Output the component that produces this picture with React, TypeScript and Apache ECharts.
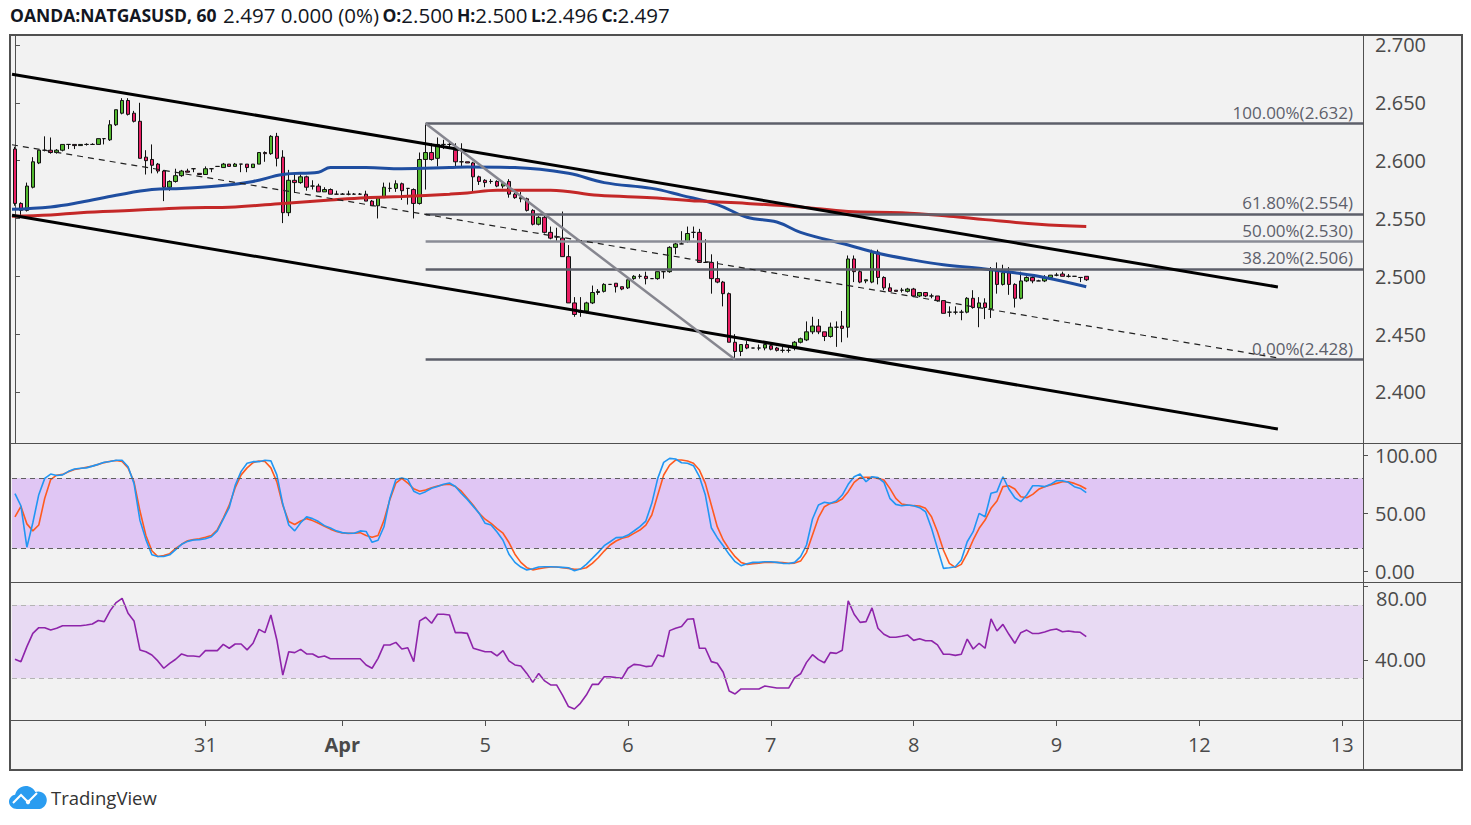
import React, { useEffect, useRef } from "react";
import * as echarts from "echarts";

// hourly candles, one per slot; slots after the last candle stay empty (future space)
const slotCount = 227;

const opens = [
  2.610, 2.563, 2.557, 2.577, 2.598, 2.609, 2.609, 2.607, 2.609, 2.614,
  2.614, 2.613, 2.614, 2.614, 2.614, 2.619, 2.618, 2.631, 2.641, 2.652,
  2.641, 2.634, 2.603, 2.601, 2.597, 2.591, 2.577, 2.582, 2.587, 2.591,
  2.593, 2.589, 2.588, 2.593, 2.595, 2.594, 2.597, 2.595, 2.597, 2.597,
  2.594, 2.597, 2.607, 2.606, 2.621, 2.603, 2.555, 2.583, 2.581, 2.586,
  2.578, 2.578, 2.573, 2.575, 2.571, 2.571, 2.571, 2.571, 2.571, 2.571,
  2.565, 2.561, 2.568, 2.576, 2.576, 2.580, 2.576, 2.575, 2.563, 2.601,
  2.607, 2.602, 2.614, 2.614, 2.609, 2.599, 2.599, 2.598, 2.586, 2.583,
  2.582, 2.582, 2.578, 2.582, 2.571, 2.567, 2.567, 2.557, 2.545, 2.551,
  2.538, 2.534, 2.533, 2.517, 2.477, 2.469, 2.470, 2.477, 2.486, 2.487,
  2.493, 2.494, 2.491, 2.490, 2.498, 2.500, 2.500, 2.498, 2.498, 2.504,
  2.504, 2.525, 2.528, 2.530, 2.538, 2.538, 2.512, 2.512, 2.498, 2.495,
  2.485, 2.443, 2.435, 2.441, 2.438, 2.438, 2.438, 2.440, 2.438, 2.436,
  2.436, 2.438, 2.443, 2.445, 2.452, 2.457, 2.452, 2.448, 2.456, 2.457,
  2.456, 2.515, 2.504, 2.496, 2.495, 2.521, 2.499, 2.490, 2.488, 2.488,
  2.487, 2.489, 2.483, 2.486, 2.483, 2.483, 2.479, 2.469, 2.469, 2.469,
  2.469, 2.481, 2.473, 2.477, 2.472, 2.506, 2.493, 2.503, 2.493, 2.481,
  2.496, 2.499, 2.496, 2.496, 2.499, 2.501, 2.502, 2.500, 2.500, 2.499,
  2.500,
];
const highs = [
  2.612, 2.564, 2.581, 2.603, 2.609, 2.621, 2.620, 2.610, 2.614, 2.614,
  2.614, 2.614, 2.615, 2.615, 2.619, 2.619, 2.635, 2.644, 2.654, 2.654,
  2.643, 2.650, 2.609, 2.614, 2.598, 2.592, 2.583, 2.593, 2.592, 2.593,
  2.593, 2.589, 2.595, 2.593, 2.595, 2.598, 2.597, 2.598, 2.597, 2.597,
  2.597, 2.607, 2.608, 2.622, 2.624, 2.609, 2.592, 2.589, 2.588, 2.587,
  2.583, 2.580, 2.577, 2.576, 2.574, 2.572, 2.574, 2.572, 2.572, 2.574,
  2.566, 2.568, 2.581, 2.581, 2.583, 2.581, 2.576, 2.576, 2.607, 2.632,
  2.615, 2.620, 2.618, 2.617, 2.615, 2.615, 2.599, 2.599, 2.587, 2.584,
  2.584, 2.583, 2.580, 2.584, 2.572, 2.573, 2.568, 2.558, 2.552, 2.552,
  2.543, 2.542, 2.556, 2.527, 2.482, 2.482, 2.478, 2.492, 2.489, 2.494,
  2.493, 2.494, 2.491, 2.497, 2.501, 2.502, 2.504, 2.498, 2.504, 2.504,
  2.526, 2.529, 2.539, 2.543, 2.543, 2.541, 2.532, 2.519, 2.513, 2.496,
  2.486, 2.450, 2.441, 2.444, 2.438, 2.441, 2.441, 2.441, 2.439, 2.439,
  2.439, 2.444, 2.447, 2.461, 2.465, 2.463, 2.452, 2.460, 2.461, 2.470,
  2.518, 2.518, 2.506, 2.497, 2.523, 2.523, 2.500, 2.494, 2.488, 2.490,
  2.490, 2.490, 2.486, 2.486, 2.485, 2.483, 2.479, 2.474, 2.474, 2.471,
  2.482, 2.488, 2.482, 2.481, 2.508, 2.512, 2.510, 2.508, 2.494, 2.504,
  2.500, 2.500, 2.497, 2.501, 2.501, 2.503, 2.504, 2.502, 2.500, 2.499,
  2.500,
];
const lows = [
  2.561, 2.551, 2.556, 2.576, 2.597, 2.608, 2.606, 2.606, 2.608, 2.610,
  2.610, 2.613, 2.613, 2.614, 2.614, 2.614, 2.617, 2.630, 2.640, 2.639,
  2.633, 2.602, 2.588, 2.589, 2.589, 2.565, 2.574, 2.581, 2.586, 2.590,
  2.590, 2.588, 2.588, 2.590, 2.595, 2.594, 2.595, 2.595, 2.590, 2.590,
  2.594, 2.597, 2.599, 2.605, 2.595, 2.546, 2.552, 2.572, 2.580, 2.574,
  2.575, 2.573, 2.573, 2.571, 2.571, 2.571, 2.570, 2.571, 2.571, 2.565,
  2.561, 2.550, 2.568, 2.573, 2.573, 2.566, 2.562, 2.550, 2.562, 2.575,
  2.600, 2.595, 2.610, 2.610, 2.594, 2.594, 2.598, 2.572, 2.579, 2.577,
  2.580, 2.577, 2.576, 2.568, 2.567, 2.564, 2.556, 2.544, 2.544, 2.537,
  2.532, 2.530, 2.517, 2.477, 2.465, 2.465, 2.468, 2.476, 2.484, 2.486,
  2.493, 2.486, 2.488, 2.489, 2.497, 2.498, 2.493, 2.498, 2.497, 2.498,
  2.503, 2.519, 2.528, 2.529, 2.533, 2.512, 2.512, 2.485, 2.494, 2.474,
  2.443, 2.428, 2.431, 2.437, 2.438, 2.436, 2.436, 2.436, 2.435, 2.434,
  2.434, 2.436, 2.442, 2.444, 2.450, 2.450, 2.444, 2.447, 2.439, 2.443,
  2.447, 2.495, 2.494, 2.494, 2.494, 2.493, 2.488, 2.487, 2.487, 2.486,
  2.486, 2.482, 2.482, 2.482, 2.481, 2.478, 2.468, 2.465, 2.467, 2.462,
  2.468, 2.472, 2.456, 2.463, 2.464, 2.485, 2.492, 2.484, 2.473, 2.480,
  2.495, 2.494, 2.496, 2.495, 2.499, 2.500, 2.500, 2.499, 2.500, 2.495,
  2.496,
];
const closes = [
  2.563, 2.557, 2.578, 2.599, 2.609, 2.609, 2.607, 2.609, 2.614, 2.614,
  2.613, 2.614, 2.614, 2.614, 2.619, 2.619, 2.631, 2.644, 2.652, 2.640,
  2.634, 2.602, 2.600, 2.596, 2.591, 2.577, 2.582, 2.587, 2.591, 2.590,
  2.593, 2.588, 2.593, 2.593, 2.595, 2.597, 2.595, 2.597, 2.597, 2.594,
  2.597, 2.607, 2.606, 2.621, 2.602, 2.555, 2.583, 2.581, 2.586, 2.577,
  2.578, 2.573, 2.575, 2.571, 2.571, 2.571, 2.571, 2.571, 2.571, 2.565,
  2.561, 2.568, 2.577, 2.576, 2.580, 2.574, 2.576, 2.563, 2.601, 2.607,
  2.601, 2.614, 2.614, 2.614, 2.599, 2.599, 2.598, 2.586, 2.582, 2.581,
  2.582, 2.578, 2.580, 2.571, 2.568, 2.568, 2.557, 2.545, 2.551, 2.538,
  2.533, 2.534, 2.517, 2.477, 2.467, 2.469, 2.477, 2.486, 2.487, 2.493,
  2.493, 2.491, 2.489, 2.497, 2.500, 2.500, 2.498, 2.498, 2.504, 2.504,
  2.525, 2.528, 2.528, 2.537, 2.538, 2.512, 2.512, 2.498, 2.495, 2.485,
  2.443, 2.435, 2.441, 2.438, 2.438, 2.438, 2.441, 2.437, 2.436, 2.436,
  2.436, 2.443, 2.446, 2.452, 2.457, 2.452, 2.448, 2.456, 2.456, 2.455,
  2.515, 2.504, 2.495, 2.497, 2.521, 2.499, 2.490, 2.487, 2.487, 2.488,
  2.489, 2.483, 2.486, 2.483, 2.483, 2.479, 2.468, 2.469, 2.469, 2.469,
  2.481, 2.473, 2.477, 2.473, 2.506, 2.493, 2.503, 2.493, 2.481, 2.496,
  2.499, 2.496, 2.496, 2.499, 2.501, 2.501, 2.500, 2.500, 2.500, 2.499,
  2.497,
];

// moving averages read at anchor candles: [candle index, price]
const maBlue = [
  [-0.5, 2.558], [6, 2.560], [11, 2.564], [17, 2.570], [23, 2.575], [28, 2.576],
  [34, 2.578], [40, 2.582], [45, 2.588], [51, 2.590], [53, 2.594], [59, 2.594],
  [65, 2.593], [73, 2.594], [76, 2.5945], [84, 2.594], [93, 2.589], [99, 2.581],
  [107, 2.576], [112, 2.570], [118, 2.562], [123, 2.551], [128, 2.547], [132, 2.538],
  [140, 2.527], [145, 2.520], [151, 2.514], [156, 2.510], [162, 2.507], [168, 2.503],
  [173, 2.499], [180, 2.491],
];
const maRed = [
  [-0.5, 2.552], [6, 2.553], [11, 2.555], [20, 2.557], [28, 2.559], [37, 2.560],
  [45, 2.563], [53, 2.566], [59, 2.568], [65, 2.569], [73, 2.571], [76, 2.572],
  [81, 2.5745], [90, 2.5745], [98, 2.570], [107, 2.568], [115, 2.565], [123, 2.563],
  [132, 2.560], [140, 2.556], [149, 2.555], [157, 2.552], [163, 2.549], [172, 2.545],
  [180, 2.543],
];

// slow stochastic %K / %D
const stochK = [
  67, 56.5, 21, 42, 66, 80, 83.7, 82.5, 83, 86,
  88, 88.6, 89, 90.5, 92, 93.8, 94.5, 95.5, 95.5, 90,
  75.7, 44, 27.5, 14.5, 13, 13, 14.5, 19, 23.5, 26,
  27.2, 27.5, 28.3, 30, 35, 45, 55, 74, 86, 93,
  94.3, 94.3, 95.5, 95, 83, 58, 40, 35, 42, 47,
  45.5, 43, 39.5, 37.5, 35, 33.5, 33, 33, 35, 34.5,
  25.2, 27, 38.5, 63, 79, 80.3, 79, 69, 66.5, 68.6,
  71.5, 73, 75, 76, 73, 67, 62, 56, 50, 41.5,
  40, 34, 27, 15, 8, 4, 1.5, 2.5, 4, 4.3,
  4.3, 4, 3.7, 3.4, 0.9, 2.3, 6.3, 11.4, 16.6, 22.3,
  25.7, 29.2, 29.4, 31.4, 34.9, 38.6, 43.4, 58.6, 80, 93.7,
  97.1, 96.6, 93.4, 92.9, 90.9, 81.4, 65.7, 37.7, 29.2, 22.3,
  14.9, 8.6, 5.2, 6.9, 8, 8, 8.6, 8.6, 8, 7.2,
  7, 8, 12.9, 22.9, 45.2, 57.2, 59.5, 58.6, 60.6, 65.7,
  74.9, 81.4, 83.7, 77.1, 81.4, 80.6, 76.6, 62.9, 57.7, 56.6,
  57.2, 56.6, 54.9, 51.4, 37.2, 20, 2.9, 3.4, 4.3, 10,
  25.7, 34.3, 50, 47.1, 67.2, 68.6, 81.4, 70.9, 63.4, 60,
  65.7, 73.7, 73.7, 72.9, 74.9, 78, 78, 76.6, 72.9, 71.4,
  67.7,
];
const stochD = [
  47, 56, 41, 35, 40, 63, 79, 82.7, 83.4, 85.6,
  87.6, 88.5, 89.5, 90.5, 92, 93.5, 94.7, 95.3, 94.5, 89,
  77, 52, 31, 18, 13, 13.8, 15.5, 20, 23.5, 26.5,
  27.5, 28.2, 29.5, 31, 36, 46, 57, 72, 83, 89,
  93.5, 94.9, 94.5, 89, 77, 57, 43, 40.5, 43.5, 45.5,
  43.8, 41.5, 39, 36.5, 34.5, 33.2, 32.9, 33, 33.5, 31,
  29.5, 31, 44, 62, 76, 80, 76, 71, 69, 70,
  72, 73.5, 74.5, 74.9, 73, 69, 63, 57, 50, 45,
  41.5, 37, 33, 25, 15, 8, 3.5, 1.6, 2.5, 3.4,
  4, 4, 3.4, 2.9, 2, 2.3, 3.4, 7.2, 12, 17.7,
  22.9, 26.3, 28.6, 30, 32.9, 35.7, 40, 48.6, 65.7, 82.9,
  91.4, 95.7, 95.7, 94.9, 92.9, 87.1, 75.7, 57.2, 38.6, 27.2,
  19.4, 12.9, 8, 6.3, 6.9, 7.4, 8, 8, 8, 7.8,
  7.2, 7.4, 9.1, 16.6, 31.4, 46.3, 55.7, 58.6, 59.5, 62.3,
  68.6, 76.6, 80.6, 80.9, 80.9, 80, 78.6, 71.4, 62.9, 58,
  57.2, 56.6, 56.3, 54.3, 47.1, 34.3, 18.6, 7.2, 3.7, 6.3,
  15.7, 27.2, 37.2, 44.3, 54.3, 60.6, 72.9, 73.7, 70.9, 64.3,
  63.4, 66.3, 70.6, 72.9, 74.3, 75.7, 77.1, 77.1, 75.7, 73.7,
  70.9,
];

const rsi = [
  40.4, 39.1, 47.3, 54.5, 57.6, 57.6, 56.4, 57.3, 58.7, 58.7,
  58.7, 58.7, 59.1, 59.6, 61.5, 60.9, 66.9, 71.3, 73.6, 65.5,
  61.3, 45.5, 44.5, 42.7, 39.5, 35.5, 38.2, 40.4, 43.3, 42.2,
  42.2, 41.8, 45.1, 45.1, 45.1, 48.5, 46.4, 48.7, 48.7, 45.5,
  49.1, 56.7, 54.9, 64.5, 50.9, 31.8, 44.5, 44, 45.8, 43.3,
  43.3, 41.5, 42.2, 40.7, 40.7, 40.7, 40.7, 40.7, 40.7, 37.3,
  35.5, 40.9, 48.2, 48.2, 49.6, 46, 46.7, 39.1, 61.3, 63.3,
  60, 64.9, 64.9, 64.5, 54.9, 54.9, 54.5, 46.4, 45.5, 44.5,
  44.5, 42.2, 45.1, 39.5, 37.3, 36.7, 32.7, 27.8, 32.7, 28.6,
  26.4, 26.4, 20.9, 14.6, 13.3, 16.4, 20.9, 26.7, 26.7, 30.9,
  30.9, 30.4, 30, 35.5, 37.6, 37.3, 36.4, 36.7, 42.7, 41.8,
  56, 57.3, 58.2, 62.2, 62.5, 46.4, 46.4, 39.1, 38.2, 33.3,
  23.1, 21.5, 24.2, 24.2, 24.2, 24.2, 25.8, 25.3, 24.7, 24.7,
  24.7, 30.4, 32.5, 38.7, 42.9, 40.2, 38.5, 44, 43.6, 45.3,
  72.2, 64.9, 60.5, 60.9, 68.4, 57.3, 54, 52.4, 52.4, 52.9,
  53.6, 50.7, 51.6, 50.5, 50.5, 48.2, 43.1, 43.1, 42.5, 43.1,
  51.4, 46, 49.1, 46.4, 62.4, 55.8, 59.4, 54, 49.1, 54.9,
  56.3, 54.4, 54.4, 55.3, 56.3, 56.9, 55.4, 55.8, 55.3, 55.1,
  52.7,
];

// drawings: [candle index, price]
const channelTop = [[-0.5, 2.6747], [212.2, 2.4908]];
const channelBottom = [[-0.5, 2.5528], [212.2, 2.368]];
const channelMid = [[-0.5, 2.6137], [212.2, 2.4294]];
const fibTrend = [[69, 2.632], [121, 2.428]];
const fibRatios = [1, 0.618, 0.5, 0.382, 0];
const fibPrices = [2.632, 2.554, 2.53, 2.506, 2.428];
const fibColors = ["#5d5f6a", "#5d5f6a", "#8a8c96", "#5d5f6a", "#5d5f6a"];

const dayTickIndex = [32, 55, 79, 103, 127, 151, 175, 199, 223];
const dayTickLabels = ["31", "Apr", "5", "6", "7", "8", "9", "12", "13"];
const priceTicks = [2.4, 2.45, 2.5, 2.55, 2.6, 2.65, 2.7];
const stochTicks = [0, 50, 100];
const rsiTicks = [40, 80];
const rsiTopLabel = 80; // sits on the pane border, drawn apart so it clears "0.00"

const FONT = "'Open Sans', 'DejaVu Sans', sans-serif";
const NARROW = "'Liberation Sans Narrow', 'Open Sans', sans-serif";
const AXIS_COLOR = "#505050";
const TEXT_COLOR = "#4a4a4a";

const cloudPath =
  "M8 23 C3.5 23 0 19.8 0 15.8 C0 12.2 2.6 9.2 6.1 8.7 C7.3 3.7 11.6 0 16.8 0 C21 0 24.6 2.4 26.4 5.9 C27.3 5.6 28.3 5.4 29.3 5.4 C34 5.4 37.8 9.2 37.8 13.9 C37.8 18.9 34 23 29.3 23 Z";
echarts.graphic.registerShape("tvCloud", echarts.graphic.extendPath(cloudPath, {}));

const GRID_LEFT = 12;
const GRID_RIGHT = 108;

const App: React.FC = () => {
  const chartRef = useRef<HTMLDivElement>(null);

  useEffect(() => {
    if (!chartRef.current) return;
    const chart = echarts.init(chartRef.current, undefined, { renderer: "svg" });

    const categories = Array.from({ length: slotCount }, (_, i) => String(i));
    const candles = opens.map((o, i) => [o, closes[i], lows[i], highs[i]]);
    const isDay = (idx: number) => dayTickIndex.indexOf(idx) >= 0;

    const hiddenCat = (gridIndex: number) => ({
      type: "category" as const,
      gridIndex,
      data: categories,
      boundaryGap: true,
      show: false,
    });

    const rightAxis = (gridIndex: number, min: number, max: number, ticks: number[], labels: number[], digits: number) => ({
      type: "value" as const,
      gridIndex,
      min,
      max,
      position: "right" as const,
      splitLine: { show: false },
      axisLine: { show: true, lineStyle: { color: AXIS_COLOR, width: 1 } },
      axisTick: { show: true, length: 5, customValues: ticks, lineStyle: { color: AXIS_COLOR } },
      axisLabel: {
        customValues: labels,
        formatter: (v: number) => v.toFixed(digits),
        fontSize: 20,
        lineHeight: 20,
        color: TEXT_COLOR,
        fontFamily: FONT,
        margin: 12,
      },
    });

    const drawing = (data: number[][], color: string, width: number, type: any = "solid") => ({
      type: "line" as const,
      xAxisIndex: 3,
      yAxisIndex: 0,
      data,
      symbol: "none",
      silent: true,
      lineStyle: { color, width, type },
      z: 5,
    });

    const options: any = {
      animation: false,
      backgroundColor: "#ffffff",
      grid: [
        { left: GRID_LEFT, right: GRID_RIGHT, top: 35, height: 408 },
        { left: GRID_LEFT, right: GRID_RIGHT, top: 443, height: 139 },
        { left: GRID_LEFT, right: GRID_RIGHT, top: 582, height: 138 },
      ],
      xAxis: [
        hiddenCat(0),
        hiddenCat(1),
        {
          type: "category",
          gridIndex: 2,
          data: categories,
          boundaryGap: true,
          axisLine: { show: false },
          axisTick: {
            show: true,
            alignWithLabel: true,
            interval: (idx: number) => isDay(idx),
            length: 6,
            lineStyle: { color: AXIS_COLOR },
          },
          axisLabel: {
            interval: (idx: number) => isDay(idx),
            formatter: (_v: string, idx: number) => {
              const k = dayTickIndex.indexOf(idx);
              if (k < 0) return "";
              const t = dayTickLabels[k];
              return t === "Apr" ? "{m|Apr}" : t;
            },
            fontSize: 20,
            color: TEXT_COLOR,
            fontFamily: FONT,
            margin: 14,
            rich: {
              m: { fontSize: 20, fontWeight: "bold", color: TEXT_COLOR, fontFamily: FONT },
            },
          },
        },
        { type: "value", gridIndex: 0, min: -0.5, max: slotCount - 0.5, show: false },
      ],
      yAxis: [
        rightAxis(0, 2.3559, 2.7086, priceTicks, priceTicks, 3),
        rightAxis(1, -8.8, 110.3, stochTicks, stochTicks, 2),
        rightAxis(2, 7.3, 82.5, rsiTicks, rsiTicks.filter((v) => v !== rsiTopLabel), 2),
      ],
      series: [
        {
          name: "NATGASUSD",
          type: "candlestick",
          xAxisIndex: 0,
          yAxisIndex: 0,
          data: candles,
          barWidth: 4,
          itemStyle: {
            color: "#52b82e",
            color0: "#e91e63",
            borderColor: "#111111",
            borderColor0: "#111111",
            borderWidth: 1,
          },
          z: 3,
        },
        {
          name: "MA fast",
          type: "line",
          xAxisIndex: 3,
          yAxisIndex: 0,
          data: maBlue,
          smooth: 0.4,
          symbol: "none",
          lineStyle: { color: "#1f4ea0", width: 3 },
          z: 4,
        },
        {
          name: "MA slow",
          type: "line",
          xAxisIndex: 3,
          yAxisIndex: 0,
          data: maRed,
          smooth: 0.4,
          symbol: "none",
          lineStyle: { color: "#c42828", width: 3 },
          z: 4,
        },
        drawing(channelTop, "#000000", 3),
        drawing(channelBottom, "#000000", 3),
        drawing(channelMid, "#222222", 1.2, [6, 5]),
        {
          ...drawing(fibTrend, "#86868f", 2.5),
          markLine: {
            silent: true,
            symbol: ["none", "none"],
            data: fibRatios.map((r, k) => [
              {
                coord: [69, fibPrices[k]],
                lineStyle: { color: fibColors[k], width: 2.5, type: "solid" },
                label: {
                  show: true,
                  position: "insideEndTop",
                  distance: [10, 3],
                  formatter: `${(r * 100).toFixed(2)}%(${fibPrices[k].toFixed(3)})`,
                  color: "#5d606b",
                  fontSize: 17,
                  fontFamily: FONT,
                },
              },
              { coord: [slotCount - 0.5, fibPrices[k]] },
            ]),
          },
        },
        {
          name: "%D",
          type: "line",
          xAxisIndex: 1,
          yAxisIndex: 1,
          data: stochD,
          symbol: "none",
          lineStyle: { color: "#ff5a1f", width: 1.6 },
          z: 3,
        },
        {
          name: "%K",
          type: "line",
          xAxisIndex: 1,
          yAxisIndex: 1,
          data: stochK,
          symbol: "none",
          lineStyle: { color: "#2196f3", width: 1.6 },
          z: 4,
          markArea: {
            silent: true,
            itemStyle: { color: "#e0c6f4" },
            data: [[{ yAxis: 20 }, { yAxis: 80 }]],
          },
          markLine: {
            silent: true,
            symbol: ["none", "none"],
            label: { show: false },
            lineStyle: { color: "#606060", type: [5, 4], width: 1.2 },
            data: [{ yAxis: 80 }, { yAxis: 20 }],
          },
        },
        {
          name: "RSI",
          type: "line",
          xAxisIndex: 2,
          yAxisIndex: 2,
          data: rsi,
          symbol: "none",
          lineStyle: { color: "#8e24aa", width: 1.6 },
          z: 4,
          markArea: {
            silent: true,
            itemStyle: { color: "#e8daf3" },
            data: [[{ yAxis: 30 }, { yAxis: 70 }]],
          },
          markLine: {
            silent: true,
            symbol: ["none", "none"],
            label: { show: false },
            lineStyle: { color: "#b4b4b4", type: [5, 4], width: 1.2 },
            data: [{ yAxis: 70 }, { yAxis: 30 }],
          },
        },
      ],
      graphic: [
        {
          type: "rect",
          z: -10,
          silent: true,
          shape: { x: 10, y: 35, width: 1452, height: 735 },
          style: { fill: "#f2f2f2" },
        },
        {
          type: "rect",
          z: 50,
          silent: true,
          shape: { x: 10, y: 35, width: 1452, height: 735 },
          style: { fill: "none", stroke: AXIS_COLOR, lineWidth: 2 },
        },
        {
          type: "line",
          z: 50,
          silent: true,
          shape: { x1: 1363.5, y1: 35, x2: 1363.5, y2: 770 },
          style: { stroke: AXIS_COLOR, lineWidth: 1 },
        },
        ...[443.5, 582.5, 720.5].map((y) => ({
          type: "line",
          z: 50,
          silent: true,
          shape: { x1: 10, y1: y, x2: 1462, y2: y },
          style: { stroke: AXIS_COLOR, lineWidth: 1 },
        })),
        {
          type: "text",
          x: 1376,
          y: 588,
          z: 50,
          silent: true,
          style: {
            text: rsiTopLabel.toFixed(2),
            fontFamily: FONT,
            fontSize: 20,
            lineHeight: 20,
            fill: TEXT_COLOR,
            verticalAlign: "top",
          },
        },
        {
          type: "text",
          left: 10,
          top: 4,
          z: 50,
          style: {
            text:
              "{b|OANDA:NATGASUSD, 60}  {n|2.497 0.000 (0%)} {b|O:}{n|2.500} {b|H:}{n|2.500} {b|L:}{n|2.496} {b|C:}{n|2.497}",
            rich: {
              b: { fontFamily: NARROW, fontSize: 17.5, fontWeight: "bold", fill: "#131722" },
              n: { fontFamily: NARROW, fontSize: 20.5, fill: "#131722" },
            },
          },
        },
        {
          type: "tvCloud",
          x: 9,
          y: 786,
          scaleX: 1,
          scaleY: 1,
          z: 50,
          silent: true,
          style: { fill: "#2a9cf0" },
        },
        {
          type: "polyline",
          z: 51,
          silent: true,
          shape: { points: [[13, 803], [21, 795], [28, 802], [37, 793]] },
          style: { stroke: "#ffffff", lineWidth: 2, fill: "none" },
        },
        {
          type: "circle",
          z: 52,
          silent: true,
          shape: { cx: 28, cy: 802, r: 2.2 },
          style: { fill: "#ffffff" },
        },
        {
          type: "text",
          x: 51,
          y: 797,
          z: 50,
          style: {
            text: "TradingView",
            fontFamily: NARROW,
            fontSize: 18.5,
            fill: "#333333",
            verticalAlign: "middle",
          },
        },
      ],
    };

    chart.setOption(options);

    const handleResize = () => chart.resize();
    window.addEventListener("resize", handleResize);
    return () => {
      window.removeEventListener("resize", handleResize);
      chart.dispose();
    };
  }, []);

  return (
    <div
      ref={chartRef}
      style={{ position: "absolute", left: 0, top: 0, width: "1471px", height: "825px" }}
    />
  );
};

export default App;
